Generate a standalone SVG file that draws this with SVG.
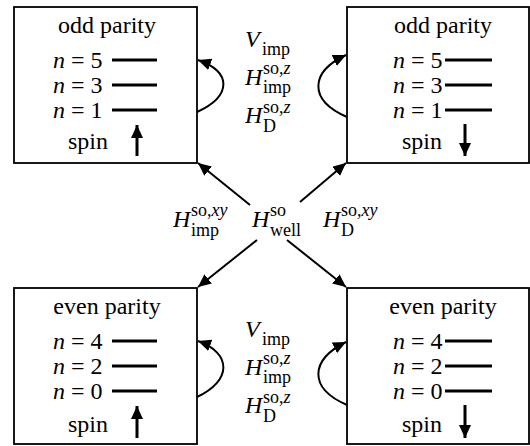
<svg xmlns="http://www.w3.org/2000/svg" width="530" height="446" viewBox="0 0 530 446" font-family="'Liberation Serif','Times New Roman',serif">
<defs>
<marker id="ah" markerUnits="userSpaceOnUse" markerWidth="14" markerHeight="12" refX="13" refY="6" orient="auto">
<path d="M0,0 L13,6 L0,12 Z" fill="#000"/>
</marker>
<marker id="sh" markerUnits="userSpaceOnUse" markerWidth="14" markerHeight="12" refX="13" refY="6" orient="auto">
<path d="M0,0 L13,6 L0,12 Z" fill="#000"/>
</marker>
</defs>
<style>
text{font-family:"Liberation Serif","Times New Roman",serif;font-size:24px;fill:#000}
.it{font-style:italic}
.s{font-size:18px}
.box{fill:#fff;stroke:#000;stroke-width:1.8}
.lvl{stroke:#000;stroke-width:3}
.con{fill:none;stroke:#000;stroke-width:2;marker-end:url(#ah)}
.spin{stroke:#000;stroke-width:3;marker-end:url(#sh)}
</style>

<g id="odd-up">
<rect class="box" x="14" y="7" width="183" height="156"/>
<text x="107" y="33" text-anchor="middle">odd parity</text>
<text x="53" y="68"><tspan class="it">n</tspan> = 5</text>
<text x="53" y="93"><tspan class="it">n</tspan> = 3</text>
<text x="53" y="118"><tspan class="it">n</tspan> = 1</text>
<line class="lvl" x1="112" y1="60" x2="157" y2="60"/>
<line class="lvl" x1="112" y1="85" x2="157" y2="85"/>
<line class="lvl" x1="112" y1="110" x2="157" y2="110"/>
<text x="68" y="149">spin</text>
<line class="spin" x1="137" y1="156" x2="137" y2="125"/>
</g>

<g id="odd-down">
<rect class="box" x="347" y="7" width="182" height="156"/>
<text x="443" y="33" text-anchor="middle">odd parity</text>
<text x="393" y="68"><tspan class="it">n</tspan> = 5</text>
<text x="393" y="93"><tspan class="it">n</tspan> = 3</text>
<text x="393" y="118"><tspan class="it">n</tspan> = 1</text>
<line class="lvl" x1="445" y1="60" x2="492" y2="60"/>
<line class="lvl" x1="445" y1="85" x2="492" y2="85"/>
<line class="lvl" x1="445" y1="110" x2="492" y2="110"/>
<text x="402" y="149">spin</text>
<line class="spin" x1="465" y1="124" x2="465" y2="156"/>
</g>

<g id="even-up">
<rect class="box" x="14" y="288" width="183" height="156"/>
<text x="107" y="314" text-anchor="middle">even parity</text>
<text x="53" y="349"><tspan class="it">n</tspan> = 4</text>
<text x="53" y="374"><tspan class="it">n</tspan> = 2</text>
<text x="53" y="399"><tspan class="it">n</tspan> = 0</text>
<line class="lvl" x1="112" y1="341" x2="157" y2="341"/>
<line class="lvl" x1="112" y1="366" x2="157" y2="366"/>
<line class="lvl" x1="112" y1="391" x2="157" y2="391"/>
<text x="68" y="432">spin</text>
<line class="spin" x1="137" y1="438" x2="137" y2="406"/>
</g>

<g id="even-down">
<rect class="box" x="347" y="288" width="182" height="156"/>
<text x="443" y="314" text-anchor="middle">even parity</text>
<text x="393" y="349"><tspan class="it">n</tspan> = 4</text>
<text x="393" y="374"><tspan class="it">n</tspan> = 2</text>
<text x="393" y="399"><tspan class="it">n</tspan> = 0</text>
<line class="lvl" x1="445" y1="341" x2="492" y2="341"/>
<line class="lvl" x1="445" y1="366" x2="492" y2="366"/>
<line class="lvl" x1="445" y1="391" x2="492" y2="391"/>
<text x="402" y="432">spin</text>
<line class="spin" x1="465" y1="405" x2="465" y2="438"/>
</g>

<g id="connectors">
<path class="con" d="M197,112 C232,96 232,72 198,60"/>
<path class="con" d="M347,117 C308,100 310,72 346,55"/>
<path class="con" d="M197,397 C232,381 232,353 198,341"/>
<path class="con" d="M347,405 C308,388 310,360 346,342"/>
<line class="con" x1="250" y1="205" x2="198" y2="163"/>
<line class="con" x1="300" y1="202" x2="346" y2="163"/>
<line class="con" x1="257" y1="240" x2="198" y2="287"/>
<line class="con" x1="287" y1="240" x2="346" y2="287"/>
</g>

<g id="labels">
<text x="245" y="47" class="it">V</text>
<text x="262" y="55" class="s">imp</text>
<text x="245" y="85" class="it">H</text>
<text x="263" y="74" class="s">so,<tspan class="it">z</tspan></text>
<text x="263" y="93" class="s">imp</text>
<text x="245" y="123" class="it">H</text>
<text x="263" y="113" class="s">so,<tspan class="it">z</tspan></text>
<text x="263" y="132" class="s">D</text>

<text x="245" y="337" class="it">V</text>
<text x="262" y="345" class="s">imp</text>
<text x="245" y="375" class="it">H</text>
<text x="263" y="364" class="s">so,<tspan class="it">z</tspan></text>
<text x="263" y="383" class="s">imp</text>
<text x="245" y="413" class="it">H</text>
<text x="263" y="403" class="s">so,<tspan class="it">z</tspan></text>
<text x="263" y="422" class="s">D</text>

<text x="173" y="227" class="it">H</text>
<text x="191" y="216" class="s">so,<tspan class="it">xy</tspan></text>
<text x="191" y="236" class="s">imp</text>
<text x="252" y="227" class="it">H</text>
<text x="270" y="216" class="s">so</text>
<text x="270" y="236" class="s">well</text>
<text x="323" y="227" class="it">H</text>
<text x="341" y="216" class="s">so,<tspan class="it">xy</tspan></text>
<text x="341" y="236" class="s">D</text>
</g>
</svg>
